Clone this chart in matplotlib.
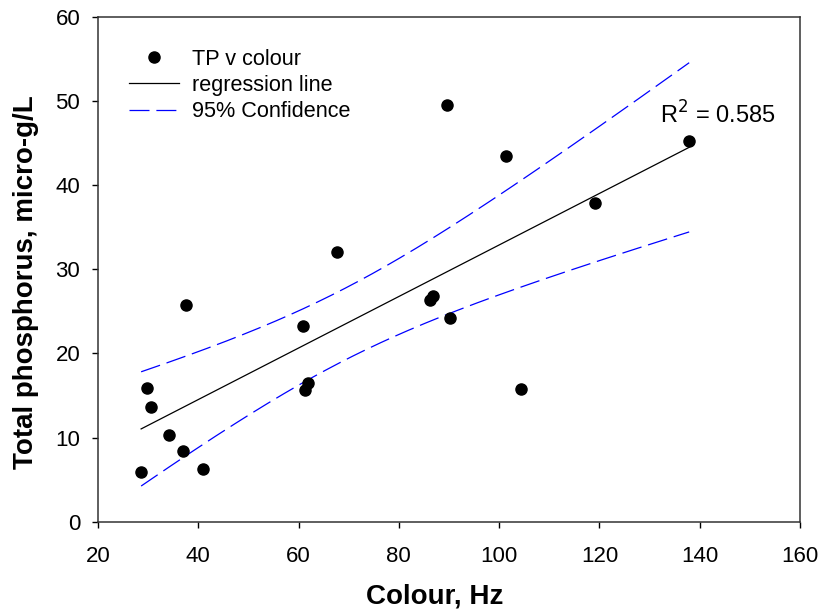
import numpy as np
import matplotlib
matplotlib.use("Agg")
import matplotlib.pyplot as plt

plt.rcParams['font.family'] = ['Liberation Sans', 'DejaVu Sans']

# Colour (Hz) vs total phosphorus (micro-g/L)
colour = [28.6, 29.8, 30.5, 34.1, 37.0, 37.5, 41.0, 60.9, 61.2, 61.9,
          67.6, 86.2, 86.9, 89.7, 90.2, 101.3, 104.4, 119.2, 137.9]
tp = [5.9, 15.9, 13.65, 10.3, 8.4, 25.8, 6.3, 23.2, 15.7, 16.5,
      32.0, 26.3, 26.8, 49.5, 24.2, 43.5, 15.8, 37.9, 45.2]
r2_label = 'R$^2$ = 0.585'

x = np.array(colour)
y = np.array(tp)
n = len(x)

# linear regression + 95% confidence band of the mean
slope, intercept = np.polyfit(x, y, 1)
resid = y - (slope * x + intercept)
s = np.sqrt(np.sum(resid ** 2) / (n - 2))
t_crit = 2.110  # t(0.975, df=17)
xs = np.linspace(x.min(), x.max(), 200)
fit = slope * xs + intercept
half = t_crit * s * np.sqrt(1 / n + (xs - x.mean()) ** 2 / np.sum((x - x.mean()) ** 2))

fig = plt.figure(figsize=(8.22, 6.12), dpi=100)
ax = fig.add_axes([98 / 822, 1 - 521.7 / 612, 702 / 822, 505 / 612])

ax.plot(x, y, 'o', color='black', markersize=8, label='TP v colour', zorder=3)
ax.plot(xs, fit, '-', color='black', lw=0.9, label='regression line')
ax.plot(xs, fit + half, color='blue', lw=0.9, dashes=(16, 5.5), label='95% Confidence')
ax.plot(xs, fit - half, color='blue', lw=0.9, dashes=(16, 5.5))

ax.set_xlim(20, 160)
ax.set_ylim(0, 60)
ax.set_xticks(range(20, 161, 20))
ax.set_yticks(range(0, 61, 10))
ax.tick_params(direction='out', length=4.3, width=1, labelsize=16, top=False, right=False)
ax.tick_params(axis='x', pad=13)
ax.tick_params(axis='y', pad=8.5)
for sp in ax.spines.values():
    sp.set_color('#333333')
    sp.set_linewidth(1.1)

ax.set_xlabel('Colour, Hz', fontsize=20, fontweight='bold', labelpad=12)
ax.set_ylabel('Total phosphorus, micro-g/L', fontsize=20, fontweight='bold', labelpad=11.5)
# labels sit a little off-centre in the original
ax.xaxis.label.set_x(0.479)
ax.yaxis.label.set_y(0.474)

ax.text(0.80, 0.805, r2_label, transform=ax.transAxes, fontsize=17,
        ha='left', va='center')

ax.legend(loc='upper left', bbox_to_anchor=(0.044, 0.937), frameon=False, fontsize=15.6,
          borderpad=0, borderaxespad=0, handlelength=2.3, handletextpad=0.6,
          labelspacing=0.25)

fig.savefig('out.png', dpi=100)
